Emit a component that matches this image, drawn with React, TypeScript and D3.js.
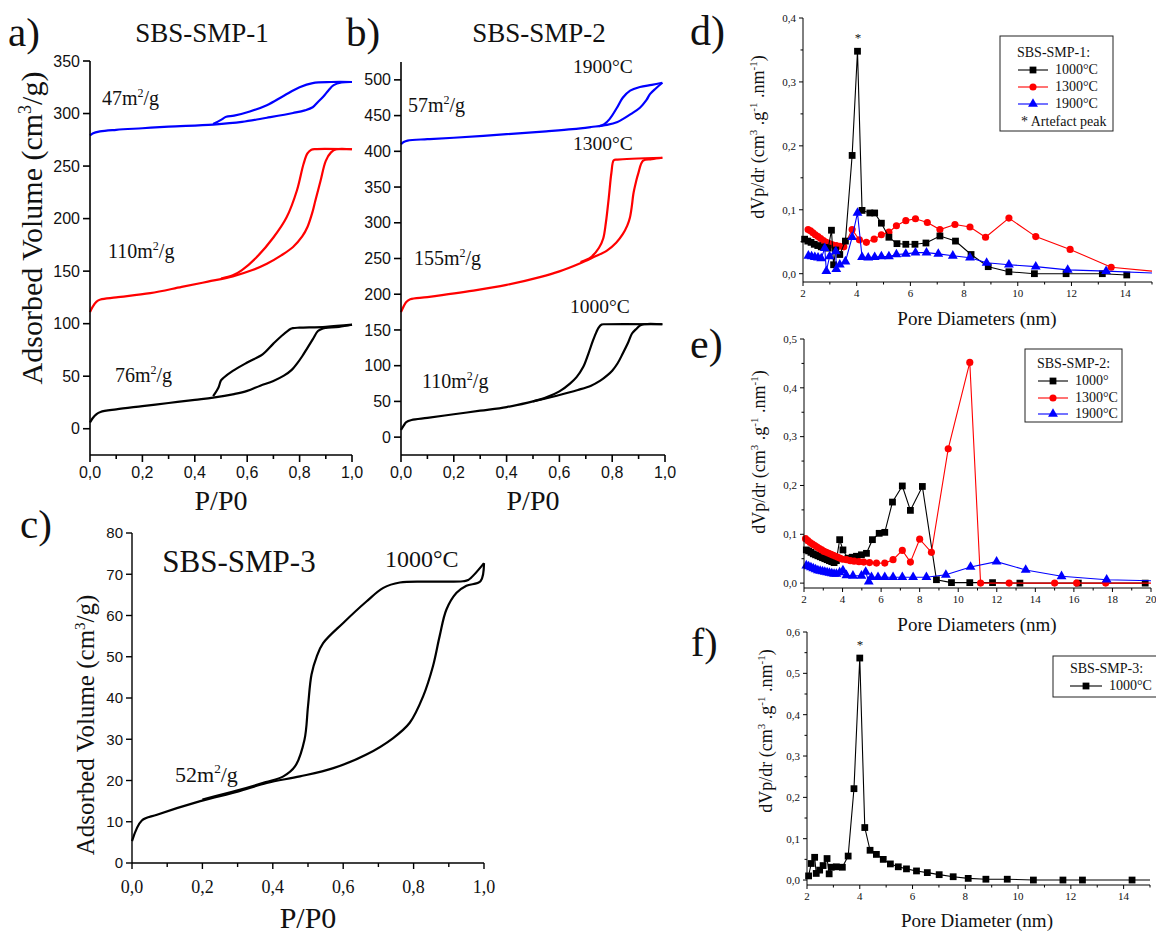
import React from 'react';
import * as d3 from 'd3';

type Pt = [number, number];

const SERIF = '"Liberation Serif", "Times New Roman", serif';
const SANS = '"Liberation Sans", Arial, sans-serif';
const RED = '#ff0000';
const BLUE = '#0000ff';

// ---------- tick values ----------
const isoXTicks = [0, 0.2, 0.4, 0.6, 0.8, 1.0];
const isoXMinor = [0.1, 0.3, 0.5, 0.7, 0.9];
const aYTicks = [0, 50, 100, 150, 200, 250, 300, 350];
const bYTicks = [0, 50, 100, 150, 200, 250, 300, 350, 400, 450, 500];
const cYTicks = [0, 10, 20, 30, 40, 50, 60, 70, 80];
const dYTicks = [0, 0.1, 0.2, 0.3, 0.4];
const dYMinor = [0.05, 0.15, 0.25, 0.35];
const dXTicks = [2, 4, 6, 8, 10, 12, 14];
const dXMinor = [3, 5, 7, 9, 11, 13, 15];
const eYTicks = [0, 0.1, 0.2, 0.3, 0.4, 0.5];
const eYMinor = [0.05, 0.15, 0.25, 0.35, 0.45];
const eXTicks = [2, 4, 6, 8, 10, 12, 14, 16, 18, 20];
const eXMinor = [3, 5, 7, 9, 11, 13, 15, 17, 19];
const fYTicks = [0, 0.1, 0.2, 0.3, 0.4, 0.5, 0.6];
const fYMinor = [0.05, 0.15, 0.25, 0.35, 0.45, 0.55];
const fXTicks = [2, 4, 6, 8, 10, 12, 14];
const fXMinor = [3, 5, 7, 9, 11, 13, 15];

// ---------- panel a: SBS-SMP-1 isotherms ----------
const a1000Ads: Pt[] = [[0, 6], [0.01, 10], [0.025, 14], [0.04, 16], [0.1, 18.5], [0.2, 21.5], [0.3, 24.5], [0.4, 27.5], [0.47, 29.6], [0.55, 33], [0.6, 36], [0.65, 41], [0.7, 45.5], [0.74, 50.5], [0.77, 56], [0.79, 62], [0.81, 69], [0.83, 77], [0.85, 85], [0.87, 93], [0.89, 95.5], [0.9, 96], [0.95, 97], [1.0, 99]];
const a1000Des: Pt[] = [[1.0, 99], [0.9, 97], [0.8, 96.2], [0.775, 95.8], [0.765, 95], [0.73, 88], [0.7, 81], [0.66, 71], [0.6, 63], [0.545, 55], [0.51, 48.5], [0.5, 46], [0.49, 39], [0.47, 31]];
const a1300Ads: Pt[] = [[0, 111], [0.01, 116], [0.025, 121], [0.04, 123], [0.1, 125], [0.23, 129], [0.35, 135], [0.45, 140], [0.545, 145], [0.62, 151], [0.675, 157], [0.73, 165], [0.775, 173], [0.81, 183], [0.83, 192], [0.85, 207], [0.86, 217], [0.88, 236], [0.9, 255], [0.92, 263], [0.94, 266], [1.0, 266]];
const a1300Des: Pt[] = [[1.0, 266], [0.86, 266.2], [0.845, 265.5], [0.83, 262], [0.815, 252], [0.79, 227], [0.75, 201], [0.7, 182], [0.635, 163], [0.58, 151], [0.545, 146], [0.5, 143]];
const a1900Ads: Pt[] = [[0, 279], [0.01, 281], [0.038, 283], [0.1, 284.5], [0.2, 286], [0.3, 287.5], [0.47, 289.5], [0.58, 292], [0.675, 296], [0.775, 300.5], [0.82, 303], [0.85, 306], [0.87, 311], [0.89, 316], [0.91, 322], [0.93, 327], [0.96, 329.5], [1.0, 330]];
const a1900Des: Pt[] = [[1.0, 330], [0.92, 330], [0.85, 329], [0.8, 325], [0.74, 317], [0.675, 308], [0.61, 302], [0.55, 298], [0.52, 297], [0.5, 294], [0.47, 290]];

// ---------- panel b: SBS-SMP-2 isotherms ----------
const b1000Ads: Pt[] = [[0, 10], [0.01, 16], [0.02, 21], [0.04, 24], [0.1, 27], [0.2, 32], [0.3, 37], [0.4, 42], [0.5, 50], [0.59, 58], [0.67, 66], [0.72, 72], [0.755, 79], [0.78, 86], [0.8, 93], [0.82, 103], [0.84, 117], [0.86, 132], [0.875, 145], [0.89, 151], [0.905, 156], [0.92, 158], [0.99, 158]];
const b1000Des: Pt[] = [[0.99, 158], [0.775, 158], [0.76, 157.5], [0.748, 153], [0.74, 147], [0.727, 135], [0.71, 117], [0.69, 98], [0.665, 84], [0.64, 75], [0.6, 64], [0.553, 56], [0.5, 50]];
const b1300Ads: Pt[] = [[0, 175], [0.01, 183], [0.02, 189], [0.035, 193], [0.1, 196], [0.274, 205], [0.4, 213], [0.526, 224], [0.6, 232], [0.677, 243], [0.73, 252], [0.78, 261], [0.815, 272], [0.84, 284], [0.857, 296], [0.867, 307], [0.875, 325], [0.88, 340], [0.89, 357], [0.898, 368], [0.917, 387], [0.95, 389], [0.99, 391]];
const b1300Des: Pt[] = [[0.99, 391], [0.82, 388.5], [0.806, 387.5], [0.797, 370], [0.787, 335], [0.776, 300], [0.766, 278], [0.75, 265], [0.72, 252], [0.68, 245]];
const b1900Ads: Pt[] = [[0, 410], [0.01, 413], [0.025, 415], [0.1, 417], [0.2, 419], [0.4, 424], [0.55, 428], [0.65, 431], [0.72, 434], [0.78, 437], [0.82, 441], [0.84, 445], [0.87, 452], [0.905, 461], [0.93, 472], [0.943, 480], [0.965, 488], [0.99, 496]];
const b1900Des: Pt[] = [[0.99, 496], [0.95, 493], [0.905, 490], [0.868, 485], [0.84, 475], [0.818, 461], [0.79, 445], [0.77, 438], [0.75, 435]];

// ---------- panel c: SBS-SMP-3 isotherm ----------
const c1000Ads: Pt[] = [[0, 5.3], [0.028, 10.3], [0.071, 11.7], [0.194, 15], [0.3, 17.3], [0.383, 19.4], [0.477, 21], [0.572, 23], [0.666, 26.3], [0.742, 30.3], [0.789, 34], [0.827, 40.4], [0.855, 47.7], [0.874, 55], [0.893, 61.4], [0.922, 65.5], [0.95, 67.2], [0.99, 68.3], [1.0, 72.7]];
const c1000Des: Pt[] = [[1.0, 72.7], [0.955, 68.6], [0.94, 68.3], [0.855, 68.2], [0.761, 68], [0.714, 66.7], [0.666, 63.4], [0.6, 58.2], [0.543, 53.3], [0.525, 50.1], [0.51, 45.7], [0.5, 38], [0.49, 29.9], [0.463, 23.4], [0.43, 21], [0.38, 19.6], [0.3, 17.6], [0.2, 15.4]];

// ---------- panel d: SBS-SMP-1 pore size distribution ----------
const d1000: Pt[] = [[2.06, 0.054], [2.18, 0.051], [2.3, 0.049], [2.42, 0.046], [2.55, 0.044], [2.68, 0.042], [2.81, 0.041], [2.94, 0.040], [3.06, 0.068], [3.14, 0.014], [3.22, 0.037], [3.37, 0.030], [3.58, 0.051], [3.83, 0.185], [4.03, 0.348], [4.2, 0.099], [4.49, 0.095], [4.67, 0.095], [4.92, 0.079], [5.2, 0.057], [5.5, 0.047], [5.83, 0.046], [6.17, 0.046], [6.58, 0.048], [7.1, 0.059], [7.68, 0.051], [8.26, 0.030], [8.9, 0.011], [9.67, 0.003], [10.62, 0.0], [11.8, 0.0], [13.15, 0.0], [14.06, -0.002]];
const d1300: Pt[] = [[2.19, 0.069], [2.28, 0.067], [2.37, 0.064], [2.46, 0.061], [2.56, 0.058], [2.66, 0.055], [2.76, 0.052], [2.87, 0.049], [2.98, 0.047], [3.1, 0.045], [3.24, 0.044], [3.37, 0.043], [3.52, 0.042], [3.83, 0.069], [4.1, 0.053], [4.36, 0.049], [4.65, 0.054], [4.92, 0.061], [5.2, 0.065], [5.48, 0.075], [5.83, 0.083], [6.19, 0.086], [6.63, 0.080], [7.1, 0.069], [7.66, 0.077], [8.22, 0.073], [8.8, 0.057], [9.67, 0.087], [10.67, 0.058], [11.95, 0.038], [13.48, 0.010], [15.0, 0.004]];
const d1900: Pt[] = [[2.2, 0.028], [2.32, 0.027], [2.44, 0.026], [2.56, 0.025], [2.68, 0.024], [2.81, 0.040], [2.87, 0.004], [2.99, 0.027], [3.22, 0.035], [3.24, 0.007], [3.37, 0.014], [3.58, 0.019], [3.83, 0.057], [4.03, 0.095], [4.2, 0.026], [4.43, 0.025], [4.67, 0.026], [4.92, 0.027], [5.2, 0.027], [5.48, 0.030], [5.83, 0.031], [6.19, 0.033], [6.6, 0.033], [7.04, 0.031], [7.58, 0.028], [8.22, 0.025], [8.84, 0.017], [9.67, 0.014], [10.67, 0.011], [11.86, 0.006], [13.29, 0.004], [15.0, 0.001]];

// ---------- panel e: SBS-SMP-2 pore size distribution ----------
const e1000: Pt[] = [[2.12, 0.068], [2.24, 0.066], [2.36, 0.063], [2.48, 0.060], [2.6, 0.058], [2.72, 0.056], [2.84, 0.054], [2.96, 0.052], [3.08, 0.050], [3.2, 0.048], [3.32, 0.046], [3.44, 0.044], [3.56, 0.042], [3.68, 0.046], [3.85, 0.089], [4.02, 0.068], [4.28, 0.051], [4.5, 0.053], [4.72, 0.055], [4.98, 0.058], [5.24, 0.061], [5.55, 0.089], [5.9, 0.102], [6.19, 0.104], [6.59, 0.166], [7.1, 0.199], [7.52, 0.149], [8.14, 0.198], [8.87, 0.007], [9.65, 0.001], [10.6, 0.001], [11.78, 0.001], [13.2, 0.0], [16.23, 0.0], [19.7, 0.0]];
const e1300: Pt[] = [[2.08, 0.091], [2.2, 0.087], [2.32, 0.083], [2.44, 0.080], [2.56, 0.077], [2.68, 0.074], [2.8, 0.071], [2.92, 0.068], [3.04, 0.065], [3.16, 0.063], [3.28, 0.061], [3.4, 0.059], [3.52, 0.057], [3.64, 0.055], [3.76, 0.053], [3.88, 0.051], [4.0, 0.049], [4.2, 0.048], [4.4, 0.046], [4.6, 0.045], [4.85, 0.044], [5.1, 0.043], [5.4, 0.042], [5.76, 0.041], [6.19, 0.041], [6.62, 0.048], [7.1, 0.067], [7.52, 0.043], [8.0, 0.090], [8.61, 0.063], [9.48, 0.275], [10.6, 0.452], [11.16, 0.0], [12.64, 0.0], [15.0, 0.0], [16.14, 0.0], [17.65, 0.0], [20.0, 0.0]];
const e1900: Pt[] = [[2.12, 0.036], [2.24, 0.034], [2.36, 0.032], [2.48, 0.030], [2.6, 0.028], [2.72, 0.026], [2.84, 0.025], [2.96, 0.024], [3.08, 0.023], [3.2, 0.022], [3.32, 0.021], [3.44, 0.020], [3.56, 0.019], [3.68, 0.019], [3.85, 0.022], [4.02, 0.026], [4.2, 0.016], [4.54, 0.015], [4.98, 0.015], [5.2, 0.023], [5.36, 0.003], [5.5, 0.012], [5.84, 0.012], [6.19, 0.012], [6.62, 0.012], [7.1, 0.012], [7.66, 0.012], [8.35, 0.012], [9.36, 0.017], [10.64, 0.033], [11.99, 0.044], [13.5, 0.027], [15.36, 0.014], [17.7, 0.007], [20.0, 0.005]];

// ---------- panel f: SBS-SMP-3 pore size distribution ----------
const f1000: Pt[] = [[2.06, 0.010], [2.16, 0.040], [2.29, 0.055], [2.35, 0.016], [2.48, 0.024], [2.61, 0.035], [2.76, 0.052], [2.84, 0.015], [2.92, 0.031], [3.11, 0.032], [3.34, 0.031], [3.56, 0.058], [3.78, 0.221], [4.0, 0.537], [4.19, 0.127], [4.39, 0.072], [4.63, 0.062], [4.89, 0.050], [5.16, 0.039], [5.46, 0.032], [5.77, 0.027], [6.15, 0.022], [6.56, 0.018], [7.01, 0.013], [7.54, 0.008], [8.11, 0.004], [8.78, 0.002], [9.59, 0.002], [10.58, 0.0], [11.7, 0.0], [12.44, 0.0], [14.32, 0.0], [15.0, 0.0]];

// ---------- helpers ----------
type Scale = d3.ScaleLinear<number, number>;
const comma = (dec: number) => (v: number) => v.toFixed(dec).replace('.', ',');

function YAxis(p: { s: Scale; x: number; ticks: number[]; minor?: number[]; fmt: (v: number) => string; font: string; size: number; len: number; mlen?: number; gap: number; sw: number; top?: number; bottom?: number; }) {
  const [r0, r1] = p.s.range();
  return (
    <g>
      <line x1={p.x} x2={p.x} y1={p.bottom ?? r0} y2={p.top ?? r1} stroke="#000" strokeWidth={p.sw} />
      {p.ticks.map((t) => (
        <g key={'t' + t}>
          <line x1={p.x - p.len} x2={p.x} y1={p.s(t)} y2={p.s(t)} stroke="#000" strokeWidth={p.sw} />
          <text x={p.x - p.len - p.gap} y={p.s(t)} dy="0.35em" textAnchor="end" fontFamily={p.font} fontSize={p.size} fill="#111">{p.fmt(t)}</text>
        </g>
      ))}
      {(p.minor || []).map((t) => (
        <line key={'m' + t} x1={p.x - (p.mlen ?? 3)} x2={p.x} y1={p.s(t)} y2={p.s(t)} stroke="#000" strokeWidth={p.sw} />
      ))}
    </g>
  );
}

function XAxis(p: { s: Scale; y: number; ticks: number[]; minor?: number[]; fmt: (v: number) => string; font: string; size: number; len: number; mlen?: number; base: number; sw: number; }) {
  const [r0, r1] = p.s.range();
  return (
    <g>
      <line x1={r0} x2={r1} y1={p.y} y2={p.y} stroke="#000" strokeWidth={p.sw} />
      {p.ticks.map((t) => (
        <g key={'t' + t}>
          <line x1={p.s(t)} x2={p.s(t)} y1={p.y} y2={p.y + p.len} stroke="#000" strokeWidth={p.sw} />
          <text x={p.s(t)} y={p.y + p.base} textAnchor="middle" fontFamily={p.font} fontSize={p.size} fill="#111">{p.fmt(t)}</text>
        </g>
      ))}
      {(p.minor || []).map((t) => (
        <line key={'m' + t} x1={p.s(t)} x2={p.s(t)} y1={p.y} y2={p.y + (p.mlen ?? 3)} stroke="#000" strokeWidth={p.sw} />
      ))}
    </g>
  );
}

const sym = {
  square: d3.symbol().type(d3.symbolSquare).size(46)() as string,
  circle: d3.symbol().type(d3.symbolCircle).size(40)() as string,
  triangle: d3.symbol().type(d3.symbolTriangle).size(42)() as string,
};

function Series(p: { data: Pt[]; sx: Scale; sy: Scale; color: string; shape: keyof typeof sym; }) {
  const line = d3.line<Pt>().x((d) => p.sx(d[0])).y((d) => p.sy(d[1]));
  const xmax = p.sx.domain()[1];
  return (
    <g>
      <path d={line(p.data) || ''} fill="none" stroke={p.color} strokeWidth={1.1} />
      {p.data.filter((d) => d[0] < xmax - 0.05).map((d, i) => (
        <path key={i} d={sym[p.shape]} transform={`translate(${p.sx(d[0])},${p.sy(d[1])})`} fill={p.color} />
      ))}
    </g>
  );
}

function Iso(p: { data: Pt[]; sx: Scale; sy: Scale; color: string }) {
  const line = d3.line<Pt>().x((d) => p.sx(d[0])).y((d) => p.sy(d[1])).curve(d3.curveCatmullRom.alpha(0.5));
  return <path d={line(p.data) || ''} fill="none" stroke={p.color} strokeWidth={2.2} strokeLinejoin="round" />;
}

function LegendRow(p: { x: number; y: number; color: string; shape: keyof typeof sym; label: string; lw: number; }) {
  return (
    <g>
      <line x1={p.x} x2={p.x + p.lw} y1={p.y - 4} y2={p.y - 4} stroke={p.color} strokeWidth={1.1} />
      <path d={sym[p.shape]} transform={`translate(${p.x + p.lw / 2},${p.y - 4})`} fill={p.color} />
      <text x={p.x + p.lw + 7} y={p.y} fontFamily={SERIF} fontSize={14} fill="#111">{p.label}</text>
    </g>
  );
}

function PsdYLabel(p: { x: number; y: number }) {
  return (
    <text transform={`translate(${p.x},${p.y}) rotate(-90)`} textAnchor="middle" fontFamily={SERIF} fontSize={18} fill="#111">
      dVp/dr (cm<tspan dy={-7} fontSize={11}>3</tspan><tspan dy={7}> .g</tspan><tspan dy={-7} fontSize={11}>-1</tspan><tspan dy={7}> .nm</tspan><tspan dy={-7} fontSize={11}>-1</tspan><tspan dy={7}>)</tspan>
    </text>
  );
}

function Area(p: { x: number; y: number; n: string; size: number; anchor?: string }) {
  return (
    <text x={p.x} y={p.y} fontFamily={SERIF} fontSize={p.size} fill="#111" textAnchor={p.anchor || 'start'}>
      {p.n}m<tspan dy={-p.size * 0.4} fontSize={p.size * 0.6}>2</tspan><tspan dy={p.size * 0.4}>/g</tspan>
    </text>
  );
}

export default function App() {
  // panel scales
  const axS = d3.scaleLinear().domain([0, 1]).range([90, 352]);
  const ayS = d3.scaleLinear().domain([-25, 350]).range([455, 61]);
  const bxS = d3.scaleLinear().domain([0, 1]).range([401, 665]);
  const byS = d3.scaleLinear().domain([-25, 525]).range([455, 62]);
  const cxS = d3.scaleLinear().domain([0, 1]).range([132, 484]);
  const cyS = d3.scaleLinear().domain([0, 80]).range([863, 533]);
  const dxS = d3.scaleLinear().domain([2, 15]).range([803, 1152]);
  const dyS = d3.scaleLinear().domain([-0.013, 0.4]).range([282, 18]);
  const exS = d3.scaleLinear().domain([2, 20]).range([804, 1151]);
  const eyS = d3.scaleLinear().domain([-0.01, 0.5]).range([588, 339]);
  const fxS = d3.scaleLinear().domain([2, 15]).range([807, 1150]);
  const fyS = d3.scaleLinear().domain([-0.012, 0.6]).range([885, 632]);

  const isoFmt = comma(1);
  const intFmt = (v: number) => String(v);

  return (
    <svg width={1156} height={936} style={{ position: 'absolute', left: 0, top: 0, background: '#fff' }}>
      <rect x={0} y={0} width={1156} height={936} fill="#fff" />

      {/* ---------------- Panel a ---------------- */}
      <text x={8} y={46} fontFamily={SERIF} fontSize={41} fill="#111">a)</text>
      <text x={202} y={42} textAnchor="middle" fontFamily={SERIF} fontSize={27} fill="#111">SBS-SMP-1</text>
      <Iso data={a1900Ads} sx={axS} sy={ayS} color={BLUE} />
      <Iso data={a1900Des} sx={axS} sy={ayS} color={BLUE} />
      <Iso data={a1300Ads} sx={axS} sy={ayS} color={RED} />
      <Iso data={a1300Des} sx={axS} sy={ayS} color={RED} />
      <Iso data={a1000Ads} sx={axS} sy={ayS} color="#000" />
      <Iso data={a1000Des} sx={axS} sy={ayS} color="#000" />
      <YAxis s={ayS} x={90} ticks={aYTicks} fmt={intFmt} font={SANS} size={16} len={7} gap={3} sw={1.6} />
      <XAxis s={axS} y={455} ticks={isoXTicks} minor={isoXMinor} fmt={isoFmt} font={SANS} size={16} len={7} mlen={4} base={23} sw={1.6} />
      <Area x={102} y={105} n="47" size={20} />
      <Area x={108} y={258} n="110" size={20} />
      <Area x={115} y={382} n="76" size={20} />
      <text transform="translate(42,228) rotate(-90)" textAnchor="middle" fontFamily={SERIF} fontSize={30} fill="#111">
        Adsorbed Volume (cm<tspan dy={-11} fontSize={18}>3</tspan><tspan dy={11}>/g)</tspan>
      </text>
      <text x={221} y={510} textAnchor="middle" fontFamily={SERIF} fontSize={28} fill="#111">P/P0</text>

      {/* ---------------- Panel b ---------------- */}
      <text x={346} y={46} fontFamily={SERIF} fontSize={41} fill="#111">b)</text>
      <text x={539} y={42} textAnchor="middle" fontFamily={SERIF} fontSize={27} fill="#111">SBS-SMP-2</text>
      <Iso data={b1900Ads} sx={bxS} sy={byS} color={BLUE} />
      <Iso data={b1900Des} sx={bxS} sy={byS} color={BLUE} />
      <Iso data={b1300Ads} sx={bxS} sy={byS} color={RED} />
      <Iso data={b1300Des} sx={bxS} sy={byS} color={RED} />
      <Iso data={b1000Ads} sx={bxS} sy={byS} color="#000" />
      <Iso data={b1000Des} sx={bxS} sy={byS} color="#000" />
      <YAxis s={byS} x={401} ticks={bYTicks} fmt={intFmt} font={SANS} size={16} len={7} gap={3} sw={1.6} />
      <XAxis s={bxS} y={455} ticks={isoXTicks} minor={isoXMinor} fmt={isoFmt} font={SANS} size={16} len={7} mlen={4} base={23} sw={1.6} />
      <text x={573} y={73} fontFamily={SERIF} fontSize={19.5} fill="#111">1900°C</text>
      <text x={573} y={150} fontFamily={SERIF} fontSize={19.5} fill="#111">1300°C</text>
      <text x={570} y={313} fontFamily={SERIF} fontSize={19.5} fill="#111">1000°C</text>
      <Area x={408} y={112} n="57" size={20} />
      <Area x={414} y={265} n="155" size={20} />
      <Area x={422} y={388} n="110" size={20} />
      <text x={533} y={510} textAnchor="middle" fontFamily={SERIF} fontSize={28} fill="#111">P/P0</text>

      {/* ---------------- Panel c ---------------- */}
      <text x={20} y={538} fontFamily={SERIF} fontSize={41} fill="#111">c)</text>
      <Iso data={c1000Ads} sx={cxS} sy={cyS} color="#000" />
      <Iso data={c1000Des} sx={cxS} sy={cyS} color="#000" />
      <YAxis s={cyS} x={132} ticks={cYTicks} fmt={intFmt} font={SANS} size={15} len={6} gap={3} sw={1.4} />
      <XAxis s={cxS} y={863} ticks={isoXTicks} minor={isoXMinor} fmt={isoFmt} font={SERIF} size={18} len={6} mlen={4} base={30} sw={1.4} />
      <text x={239} y={572} textAnchor="middle" fontFamily={SERIF} fontSize={31} fill="#111">SBS-SMP-3</text>
      <text x={385} y={567} fontFamily={SERIF} fontSize={24} fill="#111">1000°C</text>
      <Area x={175} y={782} n="52" size={22} />
      <text transform="translate(94,725) rotate(-90)" textAnchor="middle" fontFamily={SERIF} fontSize={25} fill="#111">
        Adsorbed Volume (cm<tspan dy={-9} fontSize={15}>3</tspan><tspan dy={9}>/g)</tspan>
      </text>
      <text x={308} y={928} textAnchor="middle" fontFamily={SERIF} fontSize={30} fill="#111">P/P0</text>

      {/* ---------------- Panel d ---------------- */}
      <text x={690} y={45} fontFamily={SERIF} fontSize={42} fill="#111">d)</text>
      <Series data={d1300} sx={dxS} sy={dyS} color={RED} shape="circle" />
      <Series data={d1000} sx={dxS} sy={dyS} color="#000" shape="square" />
      <Series data={d1900} sx={dxS} sy={dyS} color={BLUE} shape="triangle" />
      <YAxis s={dyS} x={803} ticks={dYTicks} minor={dYMinor} fmt={comma(1)} font={SERIF} size={11} len={4} mlen={2.5} gap={3} sw={1} top={18} />
      <XAxis s={dxS} y={282} ticks={dXTicks} minor={dXMinor} fmt={intFmt} font={SERIF} size={11} len={4} mlen={2.5} base={15} sw={1} />
      <text x={858} y={42} textAnchor="middle" fontFamily={SERIF} fontSize={13} fill="#111">*</text>
      <PsdYLabel x={764} y={137} />
      <text x={977} y={325} textAnchor="middle" fontFamily={SERIF} fontSize={19} fill="#111">Pore Diameters (nm)</text>
      <rect x={1000} y={36} width={113} height={95} fill="#fff" stroke="#222" strokeWidth={1} />
      <text x={1017} y={57} fontFamily={SERIF} fontSize={14} fill="#111">SBS-SMP-1:</text>
      <LegendRow x={1018} y={74} color="#000" shape="square" label="1000°C" lw={30} />
      <LegendRow x={1018} y={91} color={RED} shape="circle" label="1300°C" lw={30} />
      <LegendRow x={1018} y={108} color={BLUE} shape="triangle" label="1900°C" lw={30} />
      <text x={1021} y={126} fontFamily={SERIF} fontSize={14} fill="#111">* Artefact peak</text>

      {/* ---------------- Panel e ---------------- */}
      <text x={690} y={358} fontFamily={SERIF} fontSize={42} fill="#111">e)</text>
      <Series data={e1000} sx={exS} sy={eyS} color="#000" shape="square" />
      <Series data={e1300} sx={exS} sy={eyS} color={RED} shape="circle" />
      <Series data={e1900} sx={exS} sy={eyS} color={BLUE} shape="triangle" />
      <YAxis s={eyS} x={804} ticks={eYTicks} minor={eYMinor} fmt={comma(1)} font={SERIF} size={11} len={4} mlen={2.5} gap={3} sw={1} top={339} />
      <XAxis s={exS} y={588} ticks={eXTicks} minor={eXMinor} fmt={intFmt} font={SERIF} size={11} len={4} mlen={2.5} base={15} sw={1} />
      <PsdYLabel x={765} y={452} />
      <text x={977} y={631} textAnchor="middle" fontFamily={SERIF} fontSize={19} fill="#111">Pore Diameters (nm)</text>
      <rect x={1025} y={349} width={97} height={73} fill="#fff" stroke="#222" strokeWidth={1} />
      <text x={1037} y={368} fontFamily={SERIF} fontSize={14} fill="#111">SBS-SMP-2:</text>
      <LegendRow x={1038} y={385} color="#000" shape="square" label="1000°" lw={30} />
      <LegendRow x={1038} y={402} color={RED} shape="circle" label="1300°C" lw={30} />
      <LegendRow x={1038} y={418} color={BLUE} shape="triangle" label="1900°C" lw={30} />

      {/* ---------------- Panel f ---------------- */}
      <text x={691} y={656} fontFamily={SERIF} fontSize={40} fill="#111">f)</text>
      <Series data={f1000} sx={fxS} sy={fyS} color="#000" shape="square" />
      <YAxis s={fyS} x={807} ticks={fYTicks} minor={fYMinor} fmt={comma(1)} font={SERIF} size={11} len={4} mlen={2.5} gap={3} sw={1} top={632} />
      <XAxis s={fxS} y={885} ticks={fXTicks} minor={fXMinor} fmt={intFmt} font={SERIF} size={11} len={4} mlen={2.5} base={15} sw={1} />
      <text x={860} y={649} textAnchor="middle" fontFamily={SERIF} fontSize={13} fill="#111">*</text>
      <PsdYLabel x={772} y={731} />
      <text x={977} y={927} textAnchor="middle" fontFamily={SERIF} fontSize={19} fill="#111">Pore Diameter (nm)</text>
      <rect x={1053} y={656} width={110} height={41} fill="#fff" stroke="#222" strokeWidth={1} />
      <text x={1070} y={673} fontFamily={SERIF} fontSize={14} fill="#111">SBS-SMP-3:</text>
      <LegendRow x={1070} y={690} color="#000" shape="square" label="1000°C" lw={32} />
    </svg>
  );
}
